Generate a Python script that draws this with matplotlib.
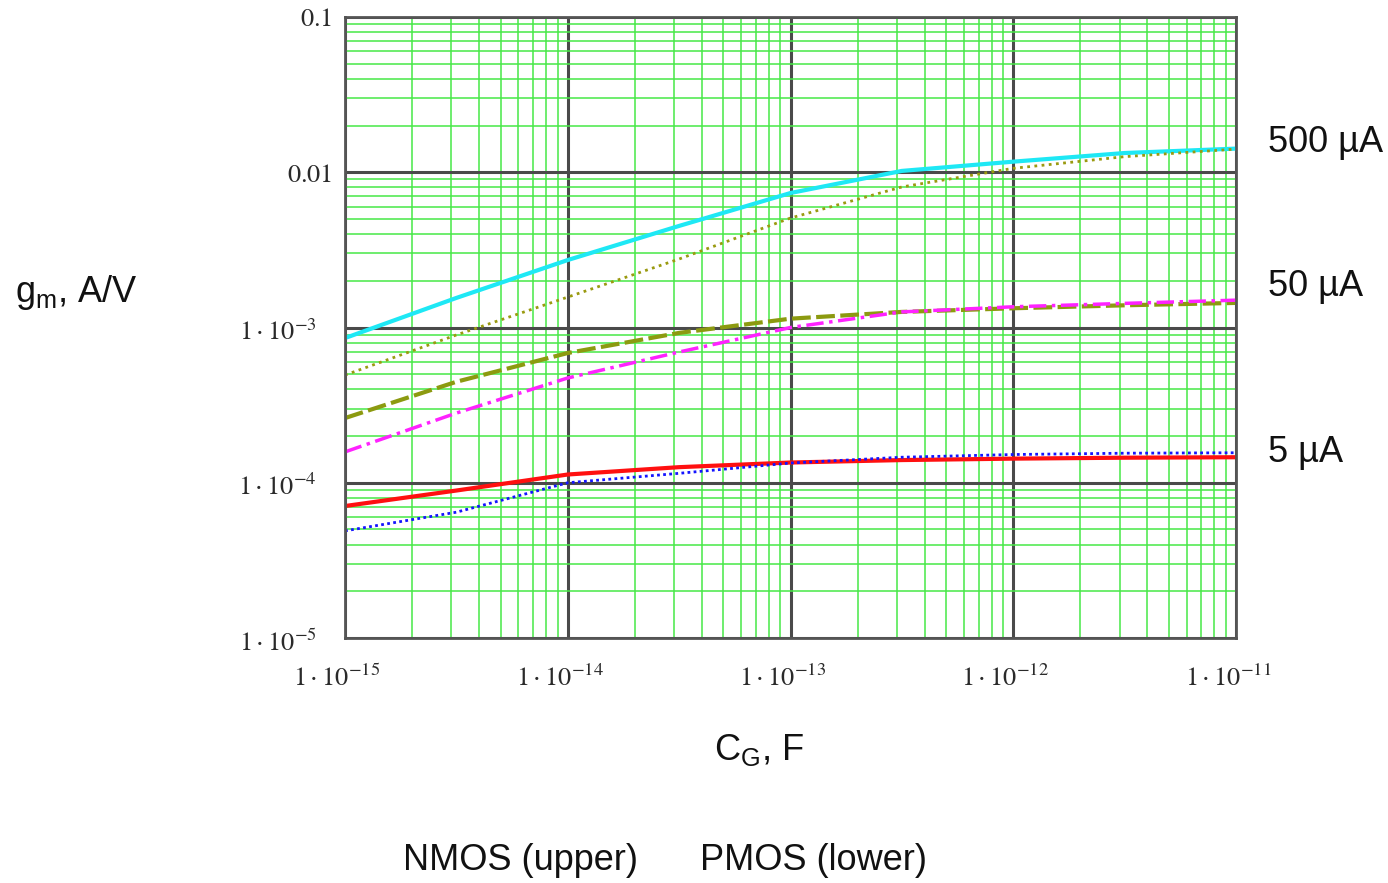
import matplotlib
matplotlib.use("Agg")
import matplotlib.pyplot as plt
from matplotlib.transforms import ScaledTranslation

# Gate capacitance sweep, F
cg = [1e-15, 3.16e-15, 1e-14, 3.16e-14, 1e-13, 3.16e-13, 1e-12, 3.16e-12, 1e-11]

# Transconductance, A/V
gm_nmos_500u = [8.55e-4, 1.55e-3, 2.72e-3, 4.51e-3, 7.35e-3, 1.02e-2, 1.17e-2, 1.33e-2, 1.42e-2]
gm_pmos_500u = [4.94e-4, 8.95e-4, 1.57e-3, 2.76e-3, 5.07e-3, 8.04e-3, 1.06e-2, 1.26e-2, 1.41e-2]
gm_nmos_50u = [2.61e-4, 4.47e-4, 6.85e-4, 9.23e-4, 1.14e-3, 1.26e-3, 1.33e-3, 1.39e-3, 1.44e-3]
gm_pmos_50u = [1.58e-4, 2.81e-4, 4.73e-4, 6.95e-4, 1.00e-3, 1.26e-3, 1.36e-3, 1.43e-3, 1.50e-3]
gm_nmos_5u = [7.08e-5, 8.91e-5, 1.13e-4, 1.26e-4, 1.35e-4, 1.40e-4, 1.43e-4, 1.45e-4, 1.46e-4]
gm_pmos_5u = [4.90e-5, 6.46e-5, 1.00e-4, 1.15e-4, 1.34e-4, 1.46e-4, 1.52e-4, 1.55e-4, 1.56e-4]

x_ticks = [1e-15, 1e-14, 1e-13, 1e-12, 1e-11]
x_tick_labels = [r"$1\cdot10^{-15}$", r"$1\cdot10^{-14}$", r"$1\cdot10^{-13}$",
                 r"$1\cdot10^{-12}$", r"$1\cdot10^{-11}$"]
y_ticks = [1e-5, 1e-4, 1e-3, 1e-2, 1e-1]
y_tick_labels = [r"$1\cdot10^{-5}$", r"$1\cdot10^{-4}$", r"$1\cdot10^{-3}$",
                 r"$0.01$", r"$0.1$"]

current_labels = ["500 \u00b5A", "50 \u00b5A", "5 \u00b5A"]

plt.rcParams["mathtext.fontset"] = "stix"
plt.rcParams["font.family"] = ["Liberation Sans", "DejaVu Sans"]

W, H = 1388, 883
fig = plt.figure(figsize=(W / 100, H / 100), dpi=100)
fig.patch.set_facecolor("white")
ax = fig.add_axes([345 / W, 1 - 638 / H, (1236 - 345) / W, (638 - 17) / H])

ax.set_xscale("log")
ax.set_yscale("log")
ax.set_xlim(1e-15, 1e-11)
ax.set_ylim(1e-5, 0.1)

ax.set_axisbelow(True)
ax.grid(which="minor", color="#46e846", lw=1.1)
ax.grid(which="major", color="#4a4a4a", lw=2.2)

ax.set_xticks(x_ticks)
ax.set_xticklabels(x_tick_labels)
ax.set_yticks(y_ticks)
ax.set_yticklabels(y_tick_labels)
ax.tick_params(which="both", length=0)
ax.tick_params(axis="x", pad=19, labelsize=19, colors="#2a2a2a")
ax.tick_params(axis="y", pad=9, labelsize=19, colors="#2a2a2a")
for s in ax.spines.values():
    s.set_color("#555555")
    s.set_linewidth(2)

# nudge the power-of-ten labels the way the plotting package lays them out
shift_x = ScaledTranslation(-8 / 100, 0, fig.dpi_scale_trans)
for lbl in ax.get_xticklabels():
    lbl.set_transform(lbl.get_transform() + shift_x)
shift_y = ScaledTranslation(-16 / 100, -2 / 100, fig.dpi_scale_trans)
for lbl in ax.get_yticklabels()[:3]:
    lbl.set_transform(lbl.get_transform() + shift_y)

ax.plot(cg, gm_nmos_500u, color="#1ee8f5", lw=3)
ax.plot(cg, gm_pmos_500u, color="#9a9a10", lw=2, linestyle=(0, (1, 1.6)))
ax.plot(cg, gm_nmos_50u, color="#8c9a10", lw=3, linestyle=(0, (4.5, 1.3)))
ax.plot(cg, gm_pmos_50u, color="#ff22ff", lw=2.5, linestyle=(0, (5, 1.6, 1, 1.6)))
ax.plot(cg, gm_nmos_5u, color="#ff1010", lw=3)
ax.plot(cg, gm_pmos_5u, color="#1414ff", lw=2, linestyle=(0, (1, 1.2)))

fs = 26
fig.text(15 / W, 1 - 292 / H, r"$\mathregular{g_m}$, A/V", fontsize=fs,
         ha="left", va="center", color="#111111")
fig.text(759 / W, 1 - 750 / H, r"$\mathregular{C_G}$, F", fontsize=fs,
         ha="center", va="center", color="#111111")
for lbl, yc in zip(current_labels, [142, 287, 452]):
    fig.text(1268 / W, 1 - yc / H, lbl, fontsize=fs, ha="left", va="center",
             color="#111111")
fig.text(403 / W, 1 - 860 / H, "NMOS (upper)", fontsize=fs, ha="left",
         va="center", color="#111111")
fig.text(700 / W, 1 - 860 / H, "PMOS (lower)", fontsize=fs, ha="left",
         va="center", color="#111111")

fig.savefig("out.png", dpi=100, facecolor="white")
